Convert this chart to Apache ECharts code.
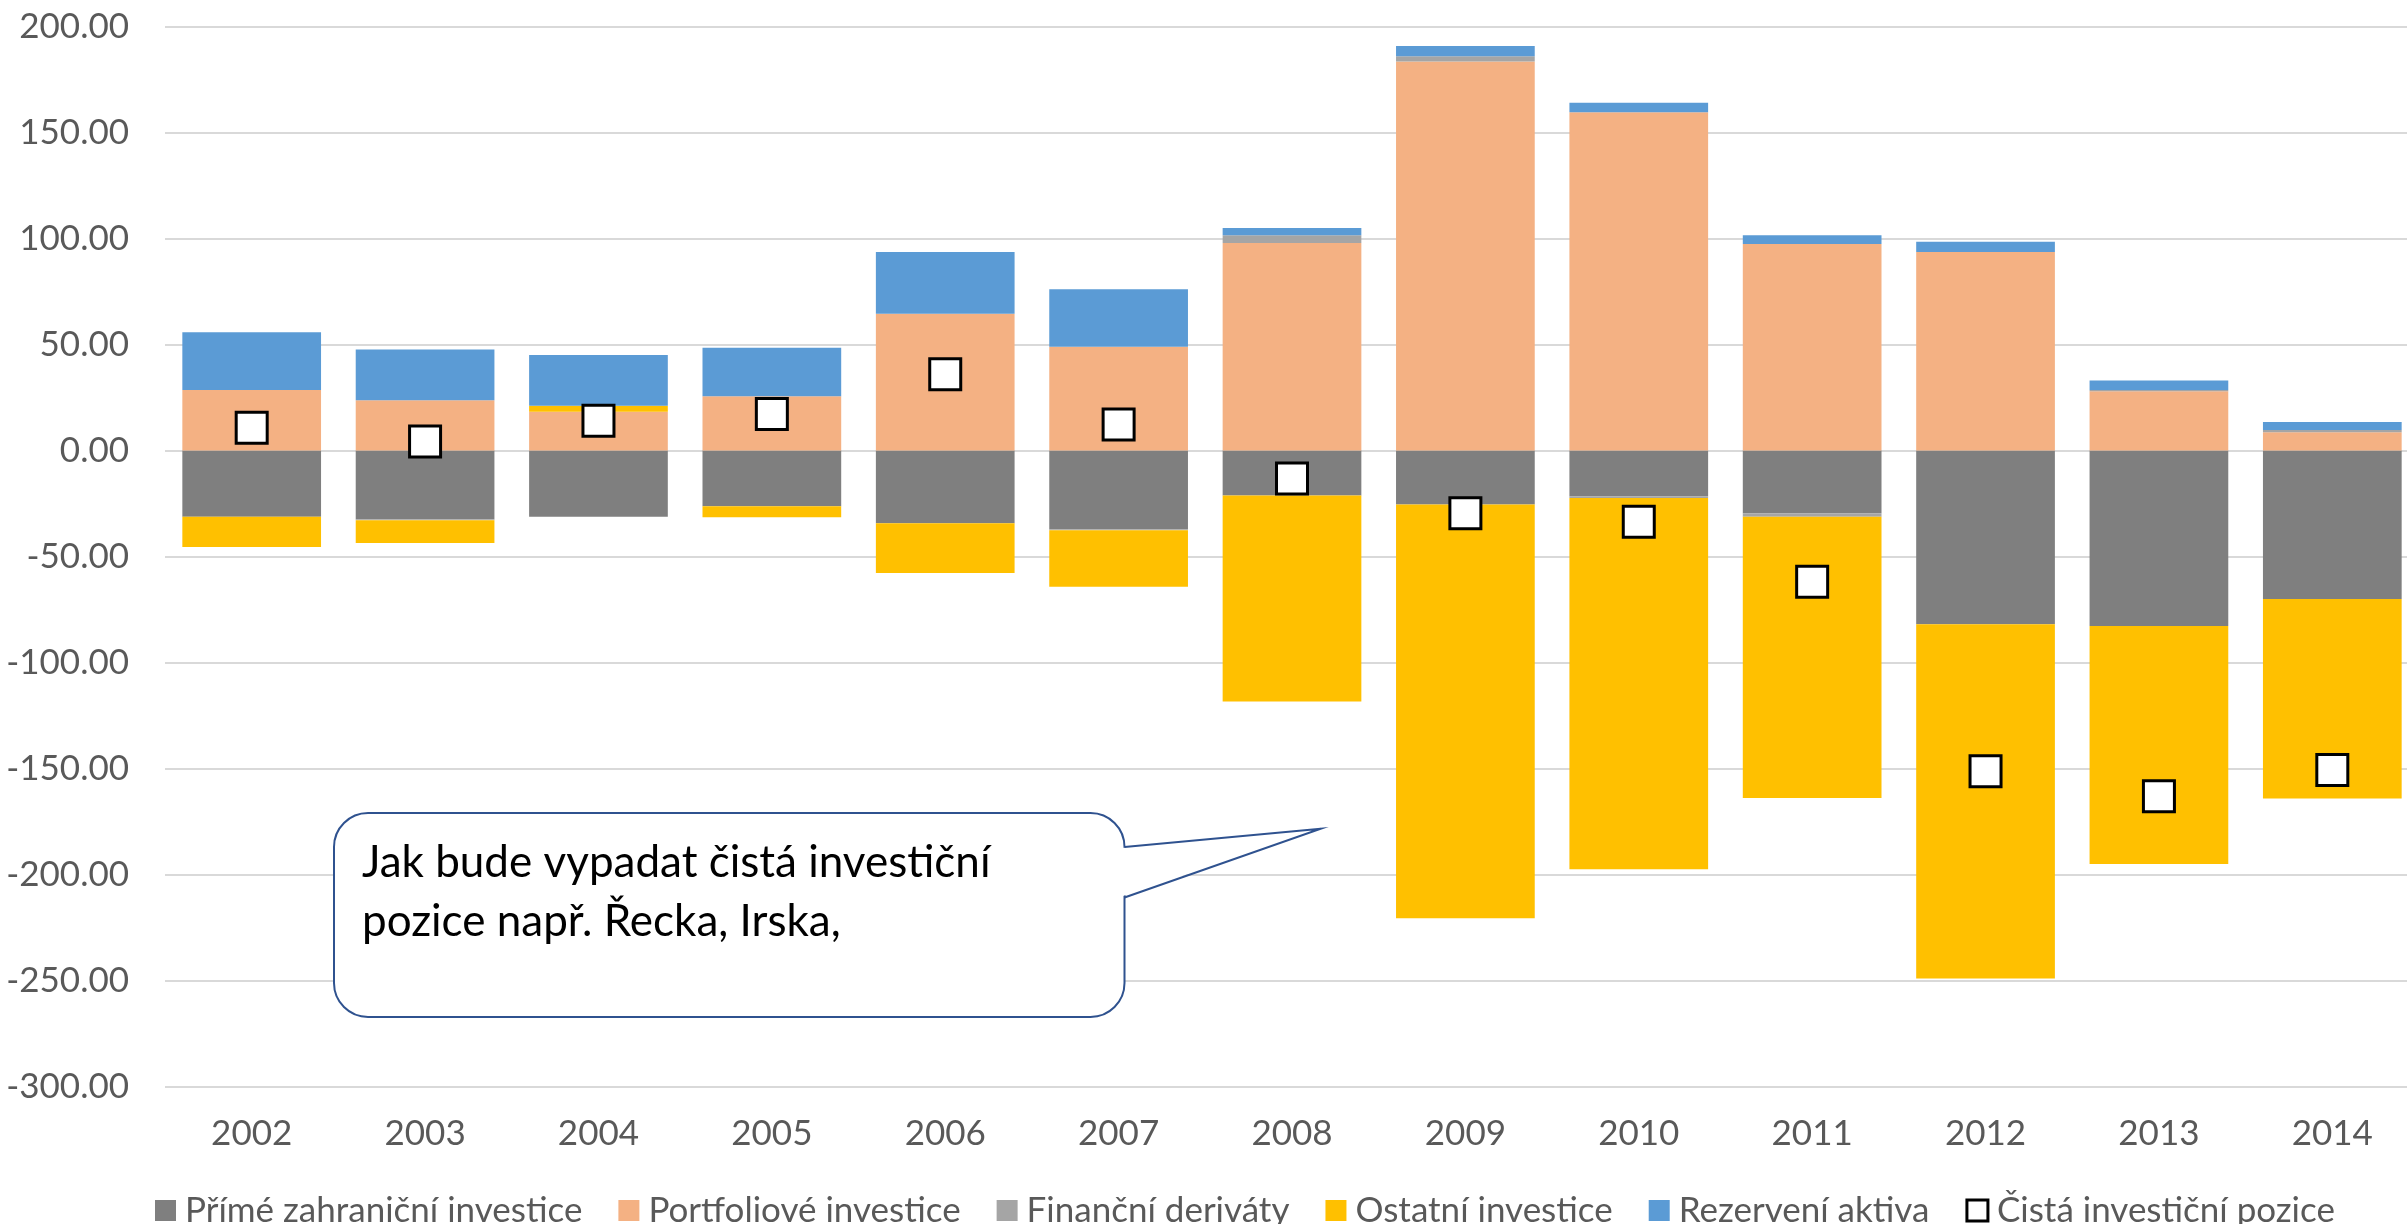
<!DOCTYPE html>
<html>
<head>
<meta charset="utf-8">
<script src="https://cdn.jsdelivr.net/npm/echarts@6/dist/echarts.min.js"></script>
<style>
  html, body { margin: 0; padding: 0; background: #ffffff; overflow: hidden; }
  /* plocha grafu je o kousek širší než okno – poslední sloupec sahá až k okraji */
  #chart { width: 2419px; height: 1224px; }
</style>
</head>
<body>
<div id="chart"></div>
<script>
// Roky
const years = ['2002', '2003', '2004', '2005', '2006', '2007', '2008', '2009', '2010', '2011', '2012', '2013', '2014'];

// Složky investiční pozice (mld.)
const primeInvestice     = [-31.3, -32.4, -31.3, -26.3, -34.3, -37.1, -21.2, -25.5, -21.6, -29.6, -82.0, -82.8, -70.1];
const portfolioInvestice = [28.5, 23.7, 18.3, 25.6, 64.5, 48.9, 97.9, 183.5, 159.5, 97.4, 93.6, 28.0, 8.6];
const financniDerivaty   = [0, -0.5, 0, 0, 0, -0.5, 3.6, 2.5, -0.8, -1.7, 0, 0.5, 1.1];
const ostatniInvestice   = [-14.2, -10.7, 2.8, -5.2, -23.5, -26.7, -97.2, -195.1, -175.1, -132.6, -167.1, -112.2, -94.1];
const rezervniAktiva     = [27.3, 23.9, 23.9, 22.9, 29.1, 27.2, 3.5, 4.8, 4.5, 4.1, 4.9, 4.5, 3.7];
const cistaPozice        = [10.7, 4.3, 14.0, 17.2, 36.0, 12.3, -13.2, -29.6, -33.6, -61.9, -151.3, -163.1, -150.7];

// Osa Y
const yMin = -300, yMax = 200, yStep = 50;

const seriesNames = [
  'Přímé zahraniční investice',
  'Portfoliové investice',
  'Finanční deriváty',
  'Ostatní investice',
  'Rezervení aktiva',
  'Čistá investiční pozice'
];
const colors = ['#7F7F7F', '#F4B183', '#A5A5A5', '#FFC000', '#5B9BD5'];
const stackValues = [primeInvestice, portfolioInvestice, financniDerivaty, ostatniInvestice, rezervniAktiva];

const FONT = 'Lato, "Open Sans", sans-serif';
const TEXT_GREY = '#595959';
const CALLOUT_BLUE = '#2F528F';
const LABEL_SIZE = 35;

const chart = echarts.init(document.getElementById('chart'), null, { renderer: 'canvas' });

const barSeries = stackValues.map((vals, i) => ({
  name: seriesNames[i],
  type: 'bar',
  stack: 'pozice',
  data: vals,
  barCategoryGap: '20%',
  itemStyle: { color: colors[i] },
  emphasis: { disabled: true }
}));

const netSeries = {
  name: seriesNames[5],
  type: 'scatter',
  data: cistaPozice,
  symbol: 'rect',
  symbolSize: 31,
  z: 5,
  itemStyle: { color: '#ffffff', borderColor: '#000000', borderWidth: 3, opacity: 1 },
  emphasis: { disabled: true }
};

// Bublina s poznámkou: zaoblený obdélník + špička směřující do grafu
const bubble = { x: 334, y: 813, w: 790.5, h: 204, r: 34 };
const tip = [[1124.5, 847], [1320.7, 828.7], [1124.5, 897.5]];

chart.setOption({
  animation: false,
  backgroundColor: '#ffffff',
  textStyle: { fontFamily: FONT },
  grid: { left: 165, right: 0, top: 26.5, bottom: 137.5, containLabel: false },
  legend: {
    left: 155,
    top: 1193,
    itemWidth: 21,
    itemHeight: 21,
    itemGap: 36,
    padding: 0,
    textStyle: { fontFamily: FONT, fontSize: LABEL_SIZE, lineHeight: 22, color: TEXT_GREY, padding: [0, 0, 0, 4] },
    data: seriesNames.slice(0, 5).map((n, i) => ({ name: n, icon: 'rect', itemStyle: { color: colors[i] } }))
      .concat([{ name: seriesNames[5], icon: 'rect', itemStyle: { color: '#ffffff', borderColor: '#000000', borderWidth: 3 } }])
  },
  xAxis: {
    type: 'category',
    data: years,
    axisLine: { show: false },
    axisTick: { show: false },
    axisLabel: { fontFamily: FONT, fontSize: LABEL_SIZE, color: TEXT_GREY, margin: 30 },
    splitLine: { show: false }
  },
  yAxis: {
    type: 'value',
    min: yMin,
    max: yMax,
    interval: yStep,
    axisLine: { show: false },
    axisTick: { show: false },
    axisLabel: {
      fontFamily: FONT, fontSize: LABEL_SIZE, color: TEXT_GREY, margin: 36,
      formatter: v => v.toFixed(2)
    },
    splitLine: { lineStyle: { color: '#D9D9D9', width: 2 } }
  },
  series: barSeries.concat([netSeries]),
  graphic: [
    {
      type: 'rect',
      z: 100,
      shape: { x: bubble.x, y: bubble.y, width: bubble.w, height: bubble.h, r: bubble.r },
      style: { fill: '#ffffff', stroke: CALLOUT_BLUE, lineWidth: 2 }
    },
    {
      type: 'polygon',
      z: 101,
      shape: { points: [[tip[0][0] - 3, tip[0][1] + 1], tip[1], [tip[2][0] - 3, tip[2][1] - 1]] },
      style: { fill: '#ffffff', stroke: null }
    },
    {
      type: 'polyline',
      z: 102,
      shape: { points: tip },
      style: { fill: null, stroke: CALLOUT_BLUE, lineWidth: 2, lineJoin: 'miter' }
    },
    {
      type: 'text',
      z: 103,
      style: {
        x: 362, y: 862.6,
        text: 'Jak bude vypadat čistá investiční',
        font: '44px ' + FONT,
        fill: '#000000',
        textVerticalAlign: 'middle'
      }
    },
    {
      type: 'text',
      z: 103,
      style: {
        x: 362, y: 922,
        text: 'pozice např. Řecka, Irska,',
        font: '44px ' + FONT,
        fill: '#000000',
        textVerticalAlign: 'middle'
      }
    }
  ]
});
</script>
</body>
</html>
